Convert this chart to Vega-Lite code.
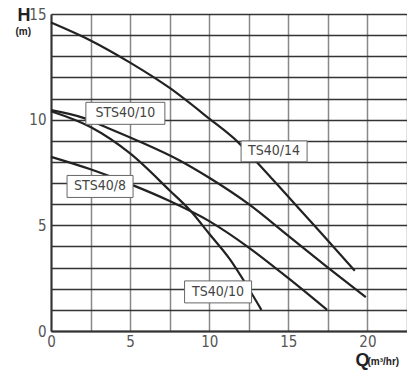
{
  "$schema": "https://vega.github.io/schema/vega-lite/v6.json",
  "width": 356,
  "height": 317,
  "autosize": {"type": "none"},
  "padding": {"left": 51, "top": 14, "right": 0, "bottom": 39},
  "background": "white",
  "config": {"view": {"stroke": null}, "font": "DejaVu Sans Condensed, Liberation Sans, sans-serif"},
  "datasets": {
    "curves": [
      {"series": "TS40/14", "Q": 0, "H": 14.6},
      {"series": "TS40/14", "Q": 2.5, "H": 13.75},
      {"series": "TS40/14", "Q": 5, "H": 12.7},
      {"series": "TS40/14", "Q": 7.5, "H": 11.5},
      {"series": "TS40/14", "Q": 10, "H": 10.05},
      {"series": "TS40/14", "Q": 11.8, "H": 8.95},
      {"series": "TS40/14", "Q": 13, "H": 8.0},
      {"series": "TS40/14", "Q": 15, "H": 6.35},
      {"series": "TS40/14", "Q": 17, "H": 4.7},
      {"series": "TS40/14", "Q": 19.2, "H": 2.85},
      {"series": "STS40/10", "Q": 0, "H": 10.45},
      {"series": "STS40/10", "Q": 2.15, "H": 10.06},
      {"series": "STS40/10", "Q": 3.3, "H": 9.7},
      {"series": "STS40/10", "Q": 5.4, "H": 9.03},
      {"series": "STS40/10", "Q": 8.1, "H": 8.08},
      {"series": "STS40/10", "Q": 10, "H": 7.25},
      {"series": "STS40/10", "Q": 12.5, "H": 6.0},
      {"series": "STS40/10", "Q": 15, "H": 4.5},
      {"series": "STS40/10", "Q": 17.5, "H": 3.0},
      {"series": "STS40/10", "Q": 19.9, "H": 1.6},
      {"series": "TS40/10", "Q": 0, "H": 10.4},
      {"series": "TS40/10", "Q": 2.5, "H": 9.65},
      {"series": "TS40/10", "Q": 5, "H": 8.4},
      {"series": "TS40/10", "Q": 7.5, "H": 6.65},
      {"series": "TS40/10", "Q": 8.8, "H": 5.7},
      {"series": "TS40/10", "Q": 10, "H": 4.6},
      {"series": "TS40/10", "Q": 11.3, "H": 3.4},
      {"series": "TS40/10", "Q": 12.5, "H": 2.0},
      {"series": "TS40/10", "Q": 13.3, "H": 1.0},
      {"series": "STS40/8", "Q": 0, "H": 8.24},
      {"series": "STS40/8", "Q": 2.5, "H": 7.65},
      {"series": "STS40/8", "Q": 5, "H": 6.95},
      {"series": "STS40/8", "Q": 7.5, "H": 6.15},
      {"series": "STS40/8", "Q": 10, "H": 5.2},
      {"series": "STS40/8", "Q": 12.5, "H": 3.95},
      {"series": "STS40/8", "Q": 15, "H": 2.5},
      {"series": "STS40/8", "Q": 17.45, "H": 1.0}
    ],
    "labels": [
      {"label": "STS40/10", "Q": 4.7, "H": 10.3},
      {"label": "TS40/14", "Q": 14.1, "H": 8.5},
      {"label": "STS40/8", "Q": 3.1, "H": 6.84},
      {"label": "TS40/10", "Q": 10.56, "H": 1.85}
    ]
  },
  "layer": [
    {
      "data": {"name": "curves"},
      "mark": {"type": "line", "interpolate": "monotone", "color": "#222", "strokeWidth": 2.2},
      "encoding": {
        "x": {
          "field": "Q", "type": "quantitative",
          "scale": {"domain": [0, 22.5], "nice": false, "zero": false},
          "axis": {
            "values": [0, 2.5, 5, 7.5, 10, 12.5, 15, 17.5, 20, 22.5],
            "labelExpr": "datum.value % 5 === 0 ? datum.label : ''",
            "grid": true, "gridColor": "#888", "gridWidth": 1.5, "gridOpacity": 1,
            "ticks": false, "domainColor": "#333", "domainWidth": 2,
            "labelFont": "DejaVu Sans Condensed, Liberation Sans, sans-serif", "labelFontSize": 15, "labelColor": "#555",
            "labelPadding": 3, "labelFlush": false,
            "title": "Q", "titleX": 304, "titleY": 34, "titleAlign": "left", "titleAnchor": null,
            "titleBaseline": "alphabetic", "titleFont": "Liberation Sans", "titleFontSize": 18,
            "titleFontWeight": "bold", "titleColor": "#222"
          }
        },
        "y": {
          "field": "H", "type": "quantitative",
          "scale": {"domain": [0, 15], "nice": false, "zero": false},
          "axis": {
            "values": [0, 1, 2, 3, 4, 5, 6, 7, 8, 9, 10, 11, 12, 13, 14, 15],
            "labelExpr": "datum.value % 5 === 0 ? datum.label : ''",
            "grid": true, "gridColor": "#333", "gridWidth": 1.3, "gridOpacity": 1,
            "ticks": false, "domainColor": "#333", "domainWidth": 2,
            "labelFont": "DejaVu Sans Condensed, Liberation Sans, sans-serif", "labelFontSize": 15, "labelColor": "#555",
            "labelPadding": 5, "labelFlush": false,
            "title": "H", "titleX": -34, "titleY": 6, "titleAlign": "left", "titleAngle": 0,
            "titleBaseline": "alphabetic", "titleFont": "Liberation Sans", "titleFontSize": 18,
            "titleFontWeight": "bold", "titleColor": "#222"
          }
        },
        "detail": {"field": "series", "type": "nominal"}
      }
    },
    {
      "data": {"name": "labels"},
      "mark": {"type": "point", "filled": true, "fill": "white", "stroke": "#666", "strokeWidth": 1, "opacity": 1, "size": 6400},
      "encoding": {
        "x": {
          "field": "Q", "type": "quantitative",
          "axis": {
            "orient": "bottom", "labels": false, "ticks": false, "domain": false, "grid": false,
            "title": "(m³/hr)", "titleX": 316, "titleY": 33, "titleAlign": "left", "titleAnchor": null,
            "titleBaseline": "alphabetic", "titleFont": "Liberation Sans", "titleFontSize": 10,
            "titleFontWeight": "bold", "titleColor": "#222"
          }
        },
        "y": {
          "field": "H", "type": "quantitative",
          "axis": {
            "orient": "left", "labels": false, "ticks": false, "domain": false, "grid": false,
            "title": "(m)", "titleX": -36, "titleY": 20, "titleAlign": "left", "titleAngle": 0,
            "titleBaseline": "alphabetic", "titleFont": "Liberation Sans", "titleFontSize": 10,
            "titleFontWeight": "bold", "titleColor": "#222"
          }
        },
        "shape": {
          "field": "label", "type": "nominal",
          "scale": {
            "domain": ["STS40/10", "TS40/14", "STS40/8", "TS40/10"],
            "range": [
              "M-0.9875,-0.275L0.9875,-0.275L0.9875,0.275L-0.9875,0.275Z",
              "M-0.825,-0.26L0.825,-0.26L0.825,0.26L-0.825,0.26Z",
              "M-0.825,-0.275L0.825,-0.275L0.825,0.275L-0.825,0.275Z",
              "M-0.8375,-0.275L0.8375,-0.275L0.8375,0.275L-0.8375,0.275Z"
            ]
          },
          "legend": null
        }
      }
    },
    {
      "data": {"name": "labels"},
      "mark": {"type": "text", "font": "DejaVu Sans Condensed, Liberation Sans, sans-serif", "fontSize": 14, "color": "#444", "align": "center", "baseline": "middle"},
      "encoding": {
        "x": {"field": "Q", "type": "quantitative", "axis": null},
        "y": {"field": "H", "type": "quantitative", "axis": null},
        "text": {"field": "label", "type": "nominal"}
      }
    }
  ],
  "resolve": {"axis": {"x": "independent", "y": "independent"}}
}
